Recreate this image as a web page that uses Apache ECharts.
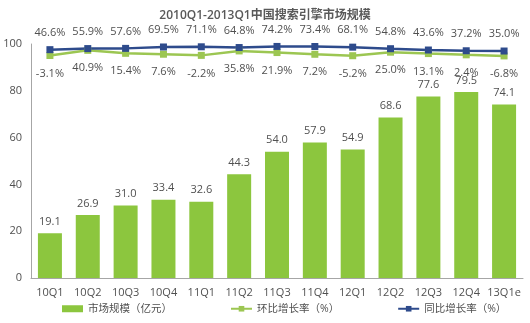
<!DOCTYPE html>
<html>
<head>
<meta charset="utf-8">
<script src="https://cdn.jsdelivr.net/npm/echarts@6/dist/echarts.min.js"></script>
<style>
html,body{margin:0;padding:0;background:#fff;}
#chart{width:530px;height:323px;}
</style>
</head>
<body>
<div id="chart"></div>
<script>
// Quarterly categories
var categories = ['10Q1','10Q2','10Q3','10Q4','11Q1','11Q2','11Q3','11Q4','12Q1','12Q2','12Q3','12Q4','13Q1e'];
// Market size (100 million yuan)
var marketSize = [19.1, 26.9, 31.0, 33.4, 32.6, 44.3, 54.0, 57.9, 54.9, 68.6, 77.6, 79.5, 74.1];
// Quarter-on-quarter growth (%)
var qoqGrowth = [-3.1, 40.9, 15.4, 7.6, -2.2, 35.8, 21.9, 7.2, -5.2, 25.0, 13.1, 2.4, -6.8];
// Year-on-year growth (%)
var yoyGrowth = [46.6, 55.9, 57.6, 69.5, 71.1, 64.8, 74.2, 73.4, 68.1, 54.8, 43.6, 37.2, 35.0];
// Left axis ticks
var yTicks = [0, 20, 40, 60, 80, 100];

var fontFamily = '"Open Sans", "Noto Sans CJK SC", sans-serif';
var textColor = '#505050';

var chart = echarts.init(document.getElementById('chart'));
chart.setOption({
  animation: false,
  textStyle: { fontFamily: fontFamily },
  title: {
    text: '2010Q1-2013Q1中国搜索引擎市场规模',
    left: 'center',
    top: 5,
    textStyle: { fontSize: 12, fontWeight: 600, color: '#595959', fontFamily: fontFamily }
  },
  legend: {
    bottom: 4,
    left: 57,
    itemGap: 58,
    itemWidth: 21,
    itemHeight: 7,
    textStyle: { fontSize: 10.5, color: '#505050', fontFamily: fontFamily },
    data: [
      { name: '市场规模（亿元）', icon: 'rect' },
      { name: '环比增长率（%）' },
      { name: '同比增长率（%）' }
    ]
  },
  grid: { left: 31, right: 7, top: 44, bottom: 45 },
  xAxis: {
    type: 'category',
    data: categories,
    axisLine: { lineStyle: { color: '#a6a6a6', width: 1 } },
    axisTick: { show: false },
    axisLabel: { interval: 0, fontSize: 11, color: textColor, margin: 9 }
  },
  yAxis: [
    {
      type: 'value',
      min: yTicks[0],
      max: yTicks[yTicks.length - 1],
      interval: yTicks[1] - yTicks[0],
      axisLine: { show: true, lineStyle: { color: '#a6a6a6' } },
      axisTick: { show: false },
      splitLine: { show: false },
      axisLabel: { fontSize: 11, color: textColor, margin: 9 }
    },
    {
      type: 'value',
      min: -1905,
      max: 95,
      show: false,
      splitLine: { show: false }
    }
  ],
  series: [
    {
      name: '市场规模（亿元）',
      type: 'bar',
      data: marketSize,
      barWidth: 24,
      itemStyle: { color: '#8cc63e' },
      label: {
        show: true,
        position: 'top',
        distance: 6,
        fontSize: 11,
        color: textColor,
        formatter: function (p) { return p.value.toFixed(1); }
      }
    },
    {
      name: '环比增长率（%）',
      type: 'line',
      yAxisIndex: 1,
      data: qoqGrowth,
      symbol: 'rect',
      symbolSize: 7,
      lineStyle: { color: '#9cc652', width: 2.5 },
      itemStyle: { color: '#9cc652' },
      label: {
        show: true,
        position: 'bottom',
        distance: 9,
        fontSize: 11,
        color: textColor,
        formatter: function (p) { return p.value.toFixed(1) + '%'; }
      }
    },
    {
      name: '同比增长率（%）',
      type: 'line',
      yAxisIndex: 1,
      data: yoyGrowth,
      symbol: 'rect',
      symbolSize: 7,
      lineStyle: { color: '#2e4b8c', width: 2.5 },
      itemStyle: { color: '#2e4b8c' },
      label: {
        show: true,
        position: 'top',
        distance: 8,
        fontSize: 11,
        color: textColor,
        formatter: function (p) { return p.value.toFixed(1) + '%'; }
      }
    }
  ]
});
</script>
</body>
</html>
